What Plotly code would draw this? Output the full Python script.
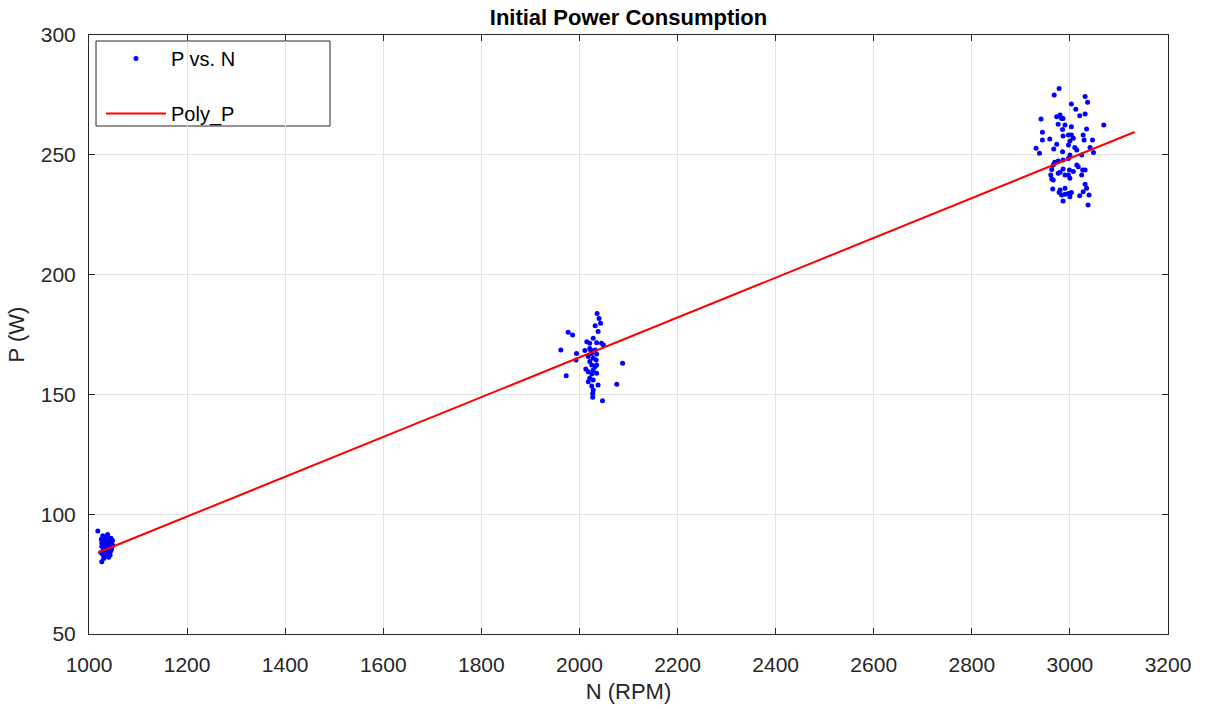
import plotly.graph_objects as go

# Cluster near 1000 RPM
N1 = [1018, 1025, 1028, 1030, 1032, 1035, 1038, 1040, 1042, 1045, 1048, 1026, 1029, 1033,
      1036, 1039, 1041, 1044, 1047, 1024, 1027, 1031, 1034, 1037, 1043, 1046, 1030, 1026,
      1040, 1028, 1038, 1033, 1045, 1026, 1042, 1036, 1031, 1048, 1039, 1029]
P1 = [93.0, 89.5, 91.0, 88.0, 90.5, 89.0, 91.5, 87.5, 90.0, 88.5, 87.0, 86.5, 85.0, 87.5,
      86.0, 88.5, 85.5, 84.5, 86.5, 84.0, 83.5, 85.0, 82.5, 84.0, 83.0, 85.5, 81.5, 80.2,
      82.0, 87.0, 86.5, 89.5, 90.0, 88.0, 84.5, 83.0, 86.0, 89.0, 87.5, 83.0]

# Cluster near 2000 RPM
N2 = [2036, 2040, 2043, 2032, 2038, 1977, 1986, 2028, 2015, 2021, 2035, 2045, 2049, 1962,
      1994, 2011, 2021, 2032, 2025, 2035, 2018, 2028, 1993, 2021, 2034, 2088, 2025, 2035,
      2013, 2028, 2018, 2025, 2035, 1973, 2021, 2028, 2018, 2076, 2038, 2025, 2028, 2027,
      2027, 2047, 2032, 2023]
P2 = [183.8, 181.7, 179.7, 178.7, 176.2, 175.9, 174.8, 173.4, 172.0, 171.3, 171.6, 171.3,
      170.6, 168.5, 167.1, 168.3, 169.2, 168.5, 167.1, 166.9, 165.8, 165.1, 164.4, 163.7,
      164.4, 163.0, 162.3, 162.3, 160.6, 160.2, 159.5, 158.5, 158.8, 157.8, 156.7, 156.0,
      155.3, 154.2, 153.9, 153.5, 151.8, 150.4, 148.8, 147.3, 161.6, 168.5]

# Cluster near 3000 RPM
N3 = [2978, 2968, 3031, 3036, 3003, 3012, 3020, 3031, 2941, 2973, 2980, 2983, 2986, 3069,
      2976, 2990, 3003, 3034, 2944, 2985, 2959, 2944, 2986, 2997, 3003, 3027, 3029, 3046,
      3007, 3000, 2931, 2938, 2967, 2985, 3010, 3014, 3041, 3000, 2997, 2986, 2976, 2969,
      2966, 2963, 3014, 3017, 3007, 2999, 2986, 2980, 2961, 2963, 2976, 2990, 2997, 3026,
      3031, 3024, 3000, 2965, 2980, 2990, 3003, 2997, 2990, 2983, 2978, 3031, 3034, 3027,
      3020, 3039, 2986, 3000, 3037, 2966, 2997, 2973, 3024, 3048]
P3 = [277.7, 275.0, 274.3, 271.9, 271.2, 269.0, 266.3, 267.0, 264.9, 265.9, 266.6, 265.2,
      265.2, 262.4, 262.7, 262.4, 261.7, 260.8, 259.4, 260.6, 256.6, 256.2, 257.8, 258.3,
      258.3, 258.3, 256.2, 256.2, 256.9, 255.8, 252.7, 250.6, 252.4, 251.3, 253.0, 252.0,
      253.0, 249.9, 248.5, 247.8, 247.4, 246.9, 245.7, 243.9, 245.7, 245.0, 243.0, 243.7,
      244.1, 242.7, 241.6, 239.9, 242.3, 241.6, 241.6, 243.7, 243.7, 241.6, 240.2, 235.7,
      235.3, 236.0, 234.3, 233.9, 233.5, 233.2, 234.3, 237.7, 236.0, 234.6, 232.9, 233.2,
      230.7, 232.5, 229.0, 239.5, 254.1, 254.4, 249.9, 251.0]

N_data = N1 + N2 + N3
P_data = P1 + P2 + P3

# Fitted line
N_fit = [1019, 3132]
P_fit = [84.0, 259.5]

X_TICKS = list(range(1000, 3201, 200))
Y_TICKS = list(range(50, 301, 50))

FONT = "Liberation Sans, Arial, Helvetica"

fig = go.Figure()
fig.add_trace(go.Scatter(x=N_data, y=P_data, mode="markers", name="P vs. N",
                         marker=dict(color="#0000FF", size=5), legendgroup="a"))
fig.add_trace(go.Scatter(x=N_fit, y=P_fit, mode="lines", name="Poly_P",
                         line=dict(color="#FF0000", width=2), legendgroup="b"))

axis_common = dict(showline=True, linecolor="#262626", linewidth=1, mirror="ticks",
                   ticks="inside", ticklen=6, tickcolor="#262626", automargin=False,
                   showgrid=True, gridcolor="#E3E3E3", gridwidth=1, zeroline=False,
                   tickfont=dict(family=FONT, size=21, color="#262626"))

# legend box (drawn as a shape so its width matches the reference)
fig.add_shape(type="rect", xref="paper", yref="paper",
              x0=7 / 1079, x1=241 / 1079, y0=1 - 91 / 599, y1=1 - 6 / 599,
              line=dict(color="#262626", width=1), fillcolor="white", layer="below")

fig.update_layout(
    width=1209, height=709,
    margin=dict(l=89, r=41, t=35, b=75),
    paper_bgcolor="white", plot_bgcolor="white",
    title=dict(text="<b>Initial Power Consumption</b>", x=(89 + 1168) / 2 / 1209, xanchor="center",
               y=1 - 17 / 709, yanchor="middle",
               font=dict(family=FONT, size=22, color="black")),
    xaxis=dict(range=[1000, 3200], tickvals=X_TICKS, ticklabelstandoff=12,
               title=dict(text="N (RPM)", font=dict(family=FONT, size=22, color="#262626"), standoff=8),
               **axis_common),
    yaxis=dict(range=[50, 300], tickvals=Y_TICKS, ticklabelstandoff=8,
               title=dict(text="P (W)", font=dict(family=FONT, size=22, color="#262626"), standoff=10),
               **axis_common),
    legend=dict(x=12 / 1079, y=1 - 4 / 599, xanchor="left", yanchor="top",
                borderwidth=0, bgcolor="rgba(0,0,0,0)",
                font=dict(family=FONT, size=20, color="black"),
                tracegroupgap=26, traceorder="grouped", itemwidth=60),
    showlegend=True,
)

fig.write_html("out.html")
